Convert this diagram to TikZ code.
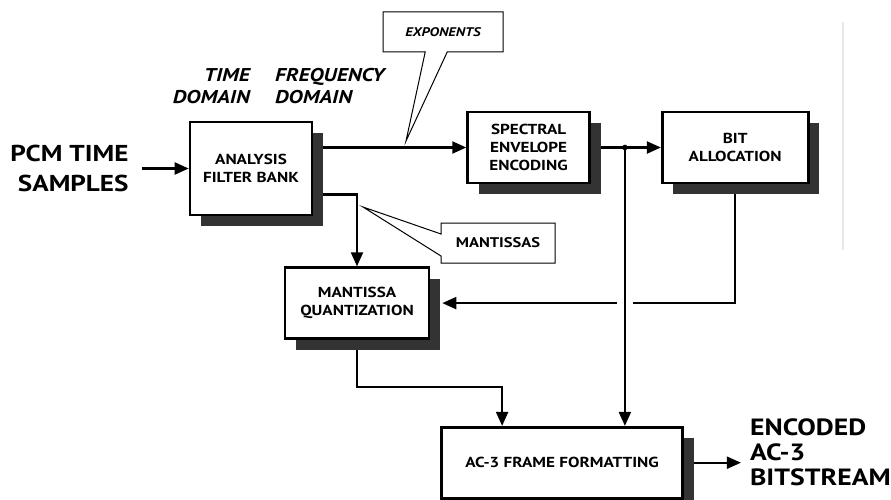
\documentclass[tikz,border=0pt]{standalone}
\usepackage{fontspec}
\setmainfont{PT Sans}[FakeStretch=1.18]
\usepackage{tikz}
\usetikzlibrary{arrows.meta, positioning, shapes.callouts, shadows,
                 calc, backgrounds}

\begin{document}
\begin{tikzpicture}[
    x=1pt, y=-1pt,
    block/.style={draw, line width=2.6pt, fill=white, align=center,
                  font=\fontsize{14.5}{18}\selectfont\bfseries,
                  drop shadow={shadow xshift=11pt, shadow yshift=-11pt,
                               fill=black!80, opacity=1}},
    arrow/.style={-{Triangle[length=14pt,width=12pt]}, line width=2.1pt},
    note/.style={rectangle callout, draw, line width=1pt, fill=white,
                 callout pointer width=22pt, minimum height=40pt},
    bigtext/.style={inner sep=0pt, font=\fontsize{23}{30}\selectfont\bfseries},
    domlabel/.style={inner sep=0pt, font=\fontsize{18.5}{22}\selectfont\bfseries\itshape},
]
\useasboundingbox (0,0) rectangle (891,500);

% processing blocks
\node[block, minimum width=122pt, minimum height=93pt] (afb) at (251,168.5)
    {ANALYSIS\\FILTER BANK};
\node[block, minimum width=122pt, minimum height=71pt,
      right=153pt of afb, yshift=21pt] (spec) {SPECTRAL\\ENVELOPE\\ENCODING};
\node[block, minimum width=146pt, minimum height=71pt,
      right=70pt of spec] (bit) {BIT\\ALLOCATION};
\node[block, minimum width=144pt, minimum height=71pt,
      below=50pt of afb, xshift=106pt] (mq) {MANTISSA\\QUANTIZATION};
\node[block, minimum width=241pt, minimum height=71pt,
      below right=86pt and 10pt of mq] (ac3) {AC-3 FRAME FORMATTING};

% input / output labels
\node[bigtext, align=right, left=60pt of afb] (pcm) {PCM TIME\\SAMPLES};
\node[bigtext, align=left, right=66pt of ac3, yshift=10pt,
      font=\fontsize{23.5}{25}\selectfont\bfseries] (enc) {ENCODED\\AC-3\\BITSTREAM};
\node[domlabel, align=right, anchor=east] (tdom) at (250,86) {TIME\\DOMAIN};
\node[domlabel, align=left, anchor=west] (fdom) at (275,86) {FREQUENCY\\DOMAIN};

% callouts
\coordinate (exptip) at (406,141);
\coordinate (mantip) at (363,207);
\node[note, minimum width=120pt, callout absolute pointer={(exptip)},
      font=\fontsize{12.5}{15}\selectfont\bfseries\itshape] (expo) at (443,32) {EXPONENTS};
\node[note, minimum width=114pt, callout absolute pointer={(mantip)},
      font=\fontsize{14}{16}\selectfont\bfseries] (mant) at (498,243) {MANTISSAS};

\draw[black!9, line width=1.2pt] (843,22) -- (843,250);

\begin{scope}[on background layer]
\draw[arrow, shorten <=13pt] (pcm.east) -- (pcm.east -| afb.west);
\draw[arrow] (spec.west -| afb.east) -- (spec.west);
\draw[arrow] (spec.east) -- (spec.east -| bit.west);
\coordinate (tap) at ($(spec.east)+(34pt,0)$);
\fill (tap) circle (2.8pt);
\draw[arrow] (tap) -- (tap |- ac3.north);
\draw[arrow] ([yshift=-26pt]afb.east) -| (mq.north);
\draw[line width=2.1pt] (bit.south) |- ($(tap |- mq.east)+(8pt,0)$);
\draw[arrow] ($(tap |- mq.east)+(-8pt,0)$) -- ([xshift=12pt]mq.east);
\draw[arrow] (mq.south) -- ++(0,47) -| ([xshift=-60pt]ac3.north);
\draw[arrow, shorten >=9pt] (ac3.east) -- (ac3.east -| enc.west);
\end{scope}
\end{tikzpicture}
\end{document}
